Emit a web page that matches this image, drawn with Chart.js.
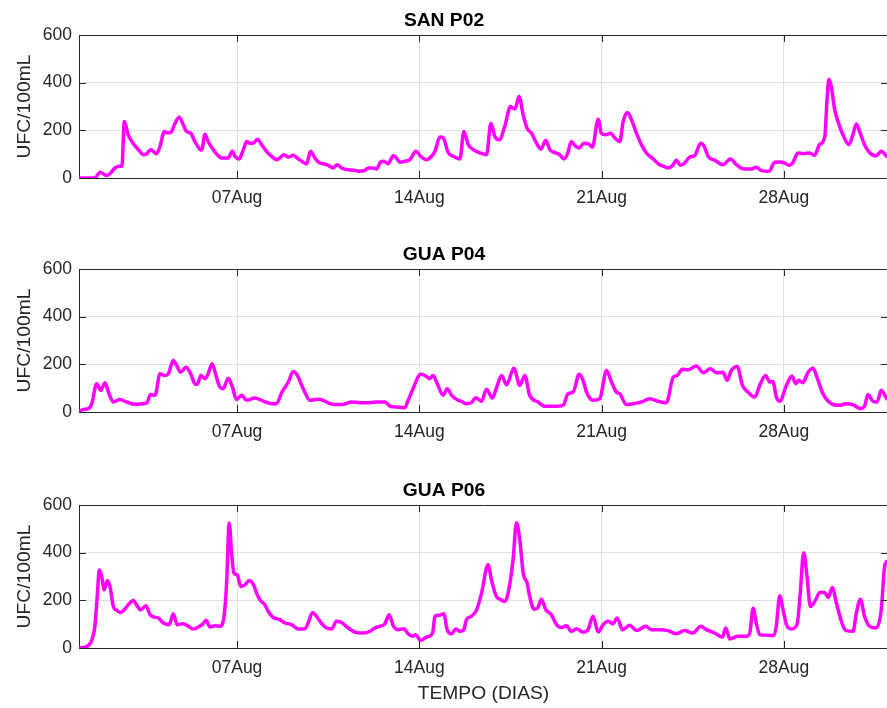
<!DOCTYPE html>
<html>
<head>
<meta charset="utf-8">
<script src="https://cdn.jsdelivr.net/npm/chart.js@4.4.1/dist/chart.umd.min.js"></script>
<style>
  html, body { margin: 0; padding: 0; background: #ffffff; overflow: hidden; width: 887px; height: 708px; }
  #wrap { position: relative; width: 887px; height: 708px; overflow: hidden; }
  .panel { position: absolute; left: 0; }
</style>
</head>
<body>
<div id="wrap">
<canvas id="c1" class="panel" width="900" height="228" style="top:0px"></canvas>
<canvas id="c2" class="panel" width="900" height="228" style="top:234px"></canvas>
<canvas id="c3" class="panel" width="900" height="238" style="top:470px"></canvas>
</div>
<script>
// ---- Data (x = day of August, fractional; values in UFC/100mL) ----
const panelTitles = ['SAN P02', 'GUA P04', 'GUA P06'];
const yAxisTitle = 'UFC/100mL';
const xAxisTitle = 'TEMPO (DIAS)';
const xTickPositions = [7, 14, 21, 28];
const xTickLabels = ['07Aug', '14Aug', '21Aug', '28Aug'];
const yTicks = [0, 200, 400, 600];

const sanP02Days = [0.93,1.54,1.74,1.99,2.12,2.31,2.48,2.58,2.67,2.82,3.02,3.21,3.40,3.53,3.68,3.78,3.91,4.04,4.21,4.30,4.45,4.62,4.78,4.91,5.06,5.22,5.38,5.57,5.64,5.77,5.89,6.09,6.28,6.41,6.66,6.82,6.92,7.08,7.24,7.37,7.49,7.62,7.78,7.94,8.13,8.33,8.52,8.65,8.80,8.97,9.16,9.35,9.54,9.67,9.82,9.99,10.18,10.37,10.57,10.69,10.85,11.01,11.27,11.52,11.72,11.91,12.04,12.23,12.36,12.51,12.64,12.80,13.00,13.12,13.25,13.44,13.64,13.87,14.05,14.28,14.47,14.60,14.79,14.92,15.11,15.30,15.56,15.71,15.88,16.07,16.32,16.58,16.75,16.90,17.07,17.28,17.50,17.67,17.83,17.99,18.14,18.31,18.50,18.67,18.86,19.01,19.20,19.39,19.55,19.68,19.84,19.97,20.14,20.32,20.48,20.65,20.87,20.99,21.15,21.34,21.51,21.70,21.83,21.99,22.15,22.34,22.53,22.72,22.98,23.23,23.39,23.55,23.75,23.87,24.03,24.19,24.39,24.58,24.81,24.94,25.09,25.35,25.66,25.95,26.18,26.43,26.75,26.94,27.14,27.43,27.65,27.84,28.03,28.22,28.35,28.54,28.74,28.99,29.18,29.37,29.57,29.66,29.73,29.82,29.95,30.12,30.27,30.50,30.65,30.78,30.91,31.10,31.29,31.55,31.74,31.95];
const sanP02Values = [0,0,24,10,18,42,49,50,237,181,144,119,98,102,119,112,102,133,195,190,191,230,255,230,195,188,153,121,118,184,153,119,93,84,84,112,91,80,119,153,146,146,163,140,112,91,77,84,98,88,95,80,66,59,112,84,63,59,49,42,56,42,35,32,28,32,42,42,38,67,70,60,93,84,66,70,77,112,91,77,91,112,172,168,107,91,80,195,140,119,105,98,230,174,160,216,300,289,342,265,209,188,146,121,158,119,107,98,80,98,153,137,126,146,144,130,247,188,181,188,168,153,237,275,244,188,140,105,80,56,49,42,56,74,53,63,88,95,146,133,91,74,56,80,56,39,38,45,31,28,66,67,63,53,66,105,102,105,95,140,172,330,414,386,288,224,181,140,181,227,195,140,107,93,112,91];

const guaP04Days = [0.93,1.10,1.29,1.42,1.61,1.77,1.93,2.06,2.25,2.50,2.76,3.08,3.40,3.53,3.68,3.85,4.04,4.23,4.36,4.55,4.68,4.83,5.04,5.19,5.38,5.47,5.61,5.77,5.89,6.04,6.19,6.34,6.47,6.66,6.82,6.98,7.17,7.37,7.69,8.01,8.33,8.52,8.71,8.97,9.16,9.32,9.54,9.80,10.12,10.31,10.57,10.82,11.08,11.40,11.72,12.10,12.36,12.68,12.87,13.12,13.44,13.57,13.76,14.05,14.25,14.40,14.53,14.66,14.92,15.07,15.24,15.49,15.62,15.79,16.00,16.17,16.39,16.58,16.81,16.96,17.16,17.35,17.63,17.86,18.05,18.24,18.56,18.82,19.14,19.52,19.71,19.91,20.14,20.29,20.42,20.67,20.93,21.19,21.38,21.57,21.70,21.95,22.21,22.53,22.85,23.17,23.49,23.75,23.90,24.10,24.32,24.64,24.90,25.18,25.41,25.66,25.82,25.98,26.21,26.41,26.62,26.88,27.10,27.30,27.46,27.58,27.71,27.84,28.10,28.31,28.45,28.58,28.73,28.93,29.12,29.25,29.50,29.82,30.14,30.40,30.65,30.94,31.10,31.23,31.42,31.58,31.74,31.95];
const guaP04Values = [0,11,14,35,119,91,123,84,42,52,42,32,35,38,73,70,160,153,160,216,195,167,188,167,119,116,153,140,160,202,153,105,98,142,105,53,70,49,59,46,35,35,81,126,170,153,98,49,53,49,35,31,32,42,39,39,42,42,25,21,18,49,98,158,151,140,153,126,70,98,70,49,45,35,39,60,45,95,59,100,153,114,184,112,153,70,42,24,24,28,77,84,158,133,84,49,56,174,126,84,77,31,35,42,56,45,39,146,153,179,177,193,165,181,165,167,133,174,191,112,84,63,119,153,126,128,63,45,112,151,119,133,123,167,184,153,77,35,28,35,31,14,25,73,45,42,91,56];

const guaP06Days = [0.93,1.16,1.33,1.45,1.54,1.63,1.71,1.80,1.90,2.02,2.12,2.25,2.38,2.53,2.66,2.82,3.02,3.14,3.30,3.50,3.66,3.81,3.98,4.17,4.40,4.55,4.70,4.94,5.13,5.32,5.51,5.68,5.81,5.96,6.15,6.34,6.50,6.60,6.70,6.79,6.88,7.01,7.14,7.30,7.47,7.65,7.75,7.88,8.07,8.20,8.39,8.65,8.84,9.09,9.35,9.61,9.73,9.90,10.05,10.25,10.44,10.63,10.82,11.01,11.27,11.52,11.84,12.10,12.29,12.48,12.68,12.84,13.00,13.19,13.41,13.57,13.76,13.86,14.05,14.28,14.51,14.60,14.76,14.94,15.07,15.24,15.40,15.56,15.71,15.81,16.00,16.20,16.39,16.64,16.77,16.96,17.09,17.28,17.41,17.60,17.73,17.86,17.99,18.14,18.24,18.40,18.54,18.69,18.86,19.07,19.27,19.46,19.65,19.84,20.03,20.29,20.48,20.67,20.87,21.06,21.25,21.44,21.60,21.80,22.08,22.34,22.70,22.91,23.23,23.55,23.87,24.19,24.51,24.81,25.02,25.34,25.64,25.77,25.92,26.24,26.56,26.69,26.82,26.94,27.07,27.39,27.61,27.71,27.84,27.97,28.10,28.29,28.51,28.63,28.76,28.89,29.02,29.22,29.38,29.57,29.70,29.86,30.02,30.21,30.37,30.66,30.78,30.94,31.10,31.29,31.55,31.74,31.87,31.95];
const guaP06Values = [0,4,14,42,91,216,328,300,244,283,258,174,158,149,160,181,199,181,160,177,140,130,126,105,98,144,98,102,91,80,88,100,116,88,93,91,133,272,525,398,314,307,258,265,283,261,230,202,181,153,128,119,105,98,80,81,105,149,133,102,84,80,112,107,84,67,63,70,84,91,102,140,93,77,81,59,49,56,32,46,63,133,137,144,77,60,80,70,77,119,133,160,230,349,286,216,205,195,230,370,526,453,314,272,216,163,167,205,160,140,98,86,93,70,81,66,77,133,67,98,112,102,126,77,95,73,91,77,77,73,60,73,63,91,77,63,46,84,38,49,49,63,167,105,56,53,52,91,219,160,98,80,100,230,400,300,174,202,233,233,212,254,188,112,74,70,144,205,133,91,84,160,342,363];

const seriesDays = [sanP02Days, guaP04Days, guaP06Days];
const seriesValues = [sanP02Values, guaP04Values, guaP06Values];

// ---- Styling ----
const FONT = '"Liberation Sans", Arial, Helvetica, sans-serif';
const AXIS_COLOR = '#262626';
const GRID_COLOR = '#e0e0e0';
const LINE_COLOR = '#ff00ff';

const boxPlugin = {
  id: 'matlabBox',
  afterDraw(chart) {
    const {ctx, chartArea} = chart;
    const {left, right, top, bottom} = chartArea;
    const xs = chart.scales.x, ys = chart.scales.y;
    const tl = 7;
    ctx.save();
    ctx.strokeStyle = AXIS_COLOR;
    ctx.lineWidth = 1;
    ctx.beginPath();
    // top edge of the box (the right edge lies just outside the picture)
    ctx.moveTo(left, Math.round(top) + 0.5);
    ctx.lineTo(right, Math.round(top) + 0.5);
    // inward ticks on x
    xs.ticks.forEach(t => {
      const px = Math.round(xs.getPixelForValue(t.value)) + 0.5;
      ctx.moveTo(px, bottom); ctx.lineTo(px, bottom - tl);
      ctx.moveTo(px, top); ctx.lineTo(px, top + tl);
    });
    // inward ticks on y (left and right)
    ys.ticks.forEach(t => {
      const py = Math.round(ys.getPixelForValue(t.value)) + 0.5;
      ctx.moveTo(left, py); ctx.lineTo(left + tl, py);
      ctx.moveTo(right, py); ctx.lineTo(right - tl, py);
    });
    ctx.stroke();
    ctx.restore();
  }
};

function makePanel(canvasId, idx, showXTitle) {
  const canvas = document.getElementById(canvasId);
  const xAxisHeight = canvas.height - 178;
  const points = seriesDays[idx].map((d, i) => ({x: d, y: seriesValues[idx][i]}));
  return new Chart(canvas, {
    type: 'line',
    data: {
      datasets: [{
        data: points,
        borderColor: LINE_COLOR,
        borderWidth: 3.5,
        pointRadius: 0,
        fill: false,
        cubicInterpolationMode: 'monotone',
        borderJoinStyle: 'round',
        borderCapStyle: 'round'
      }]
    },
    options: {
      responsive: false,
      devicePixelRatio: 1,
      animation: false,
      layout: { padding: { top: 0, left: 0, right: 12, bottom: 0 } },
      plugins: {
        legend: { display: false },
        tooltip: { enabled: false },
        title: {
          display: true,
          text: panelTitles[idx],
          color: '#000000',
          font: { family: FONT, size: 19.25, weight: 'bold' },
          padding: { top: 9.5, bottom: 2.4 }
        }
      },
      scales: {
        x: {
          type: 'linear',
          min: 0.93,
          max: 32.0,
          afterBuildTicks: (scale) => { scale.ticks = xTickPositions.map(v => ({value: v})); },
          afterFit: (scale) => { scale.height = xAxisHeight; },
          ticks: {
            autoSkip: false,
            maxRotation: 0,
            padding: 10,
            color: AXIS_COLOR,
            font: { family: FONT, size: 17.5 },
            callback: (v) => { const k = xTickPositions.indexOf(v); return k >= 0 ? xTickLabels[k] : ''; }
          },
          grid: { color: GRID_COLOR, lineWidth: 1, drawTicks: false },
          border: { color: AXIS_COLOR, width: 1 },
          title: {
            display: showXTitle,
            text: xAxisTitle,
            color: AXIS_COLOR,
            font: { family: FONT, size: 19.25 },
            padding: { top: 0, bottom: 2.5 }
          }
        },
        y: {
          min: 0,
          max: 600,
          afterBuildTicks: (scale) => { scale.ticks = yTicks.map(v => ({value: v})); },
          afterFit: (scale) => { scale.width = 79; },
          ticks: {
            padding: 7,
            color: AXIS_COLOR,
            font: { family: FONT, size: 17.5 }
          },
          grid: { color: GRID_COLOR, lineWidth: 1, drawTicks: false },
          border: { color: AXIS_COLOR, width: 1 },
          title: {
            display: true,
            text: yAxisTitle,
            color: AXIS_COLOR,
            font: { family: FONT, size: 19.25 },
            padding: { top: 13, bottom: 0 }
          }
        }
      }
    },
    plugins: [boxPlugin]
  });
}

makePanel('c1', 0, false);
makePanel('c2', 1, false);
makePanel('c3', 2, true);
</script>
</body>
</html>
